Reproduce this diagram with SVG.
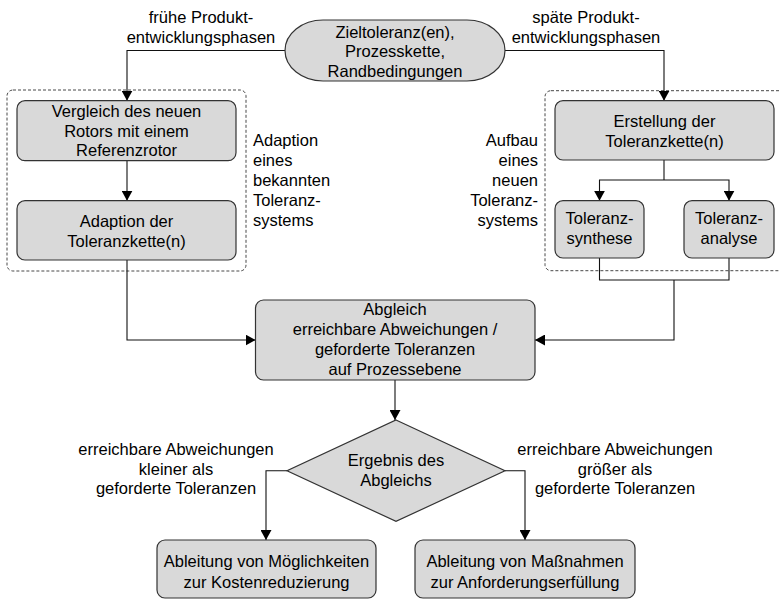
<svg xmlns="http://www.w3.org/2000/svg" width="779" height="599" viewBox="0 0 779 599">
  <style>
    text { font-family: "Liberation Sans", Arial, sans-serif; font-size: 16.5px; fill: #000; }
    .c { text-anchor: middle; }
    .e { text-anchor: end; }
    .box { fill: #d9d9d9; stroke: #333; stroke-width: 1.2; }
    .grp { fill: none; stroke: #333; stroke-width: 0.9; stroke-dasharray: 3 2; }
    .con { fill: none; stroke: #111; stroke-width: 1.1; }
  </style>
  <defs>
    <marker id="arrow" markerUnits="userSpaceOnUse" markerWidth="10" markerHeight="11" refX="10" refY="5.5" orient="auto">
      <path d="M0,0 L10,5.5 L0,11 z" fill="#000"/>
    </marker>
  </defs>

  <!-- dashed groupings -->
  <g id="group-known">
    <rect class="grp" x="7" y="90" width="239" height="181" rx="6"/>
    <text x="253" y="146">Adaption</text>
    <text x="253" y="166">eines</text>
    <text x="253" y="186">bekannten</text>
    <text x="253" y="206">Toleranz-</text>
    <text x="253" y="226">systems</text>
  </g>
  <g id="group-new">
    <rect class="grp" x="545" y="90.7" width="245" height="180" rx="6"/>
    <text class="e" x="538" y="146">Aufbau</text>
    <text class="e" x="538" y="166">eines</text>
    <text class="e" x="538" y="186">neuen</text>
    <text class="e" x="538" y="206">Toleranz-</text>
    <text class="e" x="538" y="226">systems</text>
  </g>

  <!-- connectors -->
  <g id="connectors">
    <path class="con" d="M285,50.5 H127 V100.7" marker-end="url(#arrow)"/>
    <path class="con" d="M127,161 V200.7" marker-end="url(#arrow)"/>
    <path class="con" d="M127,260 V340 H255.5" marker-end="url(#arrow)"/>
    <path class="con" d="M505,50.5 H664 V100.7" marker-end="url(#arrow)"/>
    <path class="con" d="M664,160 V180"/>
    <path class="con" d="M664,180 H599.5 V200.7" marker-end="url(#arrow)"/>
    <path class="con" d="M664,180 H729 V200.7" marker-end="url(#arrow)"/>
    <path class="con" d="M599.5,258 V280 H729 V258"/>
    <path class="con" d="M674,280 V340 H535" marker-end="url(#arrow)"/>
    <path class="con" d="M395,380 V420" marker-end="url(#arrow)"/>
    <path class="con" d="M287,470.7 H266 V540" marker-end="url(#arrow)"/>
    <path class="con" d="M505,470.7 H525 V540" marker-end="url(#arrow)"/>
    <text class="c" x="201" y="22.7">frühe Produkt-</text>
    <text class="c" x="201" y="42.7">entwicklungsphasen</text>
    <text class="c" x="586" y="22.7">späte Produkt-</text>
    <text class="c" x="586" y="42.7">entwicklungsphasen</text>
    <text class="c" x="176" y="455">erreichbare Abweichungen</text>
    <text class="c" x="176" y="474.5">kleiner als</text>
    <text class="c" x="176" y="494">geforderte Toleranzen</text>
    <text class="c" x="615" y="455">erreichbare Abweichungen</text>
    <text class="c" x="615" y="474.5">größer als</text>
    <text class="c" x="615" y="494">geforderte Toleranzen</text>
  </g>

  <!-- nodes -->
  <g id="start">
    <rect class="box" x="285" y="20" width="220" height="61" rx="38" ry="30.5"/>
    <text class="c" x="395" y="37.5">Zieltoleranz(en),</text>
    <text class="c" x="395" y="57">Prozesskette,</text>
    <text class="c" x="395" y="76.5">Randbedingungen</text>
  </g>
  <g id="compare-rotor">
    <rect class="box" x="17" y="100.7" width="219" height="60" rx="8"/>
    <text class="c" x="126.5" y="117">Vergleich des neuen</text>
    <text class="c" x="126.5" y="136.5">Rotors mit einem</text>
    <text class="c" x="126.5" y="156">Referenzrotor</text>
  </g>
  <g id="adapt-chain">
    <rect class="box" x="17" y="200.7" width="219" height="59.3" rx="8"/>
    <text class="c" x="126.5" y="226.7">Adaption der</text>
    <text class="c" x="126.5" y="246.7">Toleranzkette(n)</text>
  </g>
  <g id="create-chain">
    <rect class="box" x="555" y="100.7" width="219" height="59.3" rx="8"/>
    <text class="c" x="664.5" y="126.7">Erstellung der</text>
    <text class="c" x="664.5" y="146.7">Toleranzkette(n)</text>
  </g>
  <g id="synthesis">
    <rect class="box" x="555" y="200.7" width="89" height="57.3" rx="8"/>
    <text class="c" x="599.5" y="224">Toleranz-</text>
    <text class="c" x="599.5" y="244">synthese</text>
  </g>
  <g id="analysis">
    <rect class="box" x="684" y="200.7" width="90" height="57.3" rx="8"/>
    <text class="c" x="729" y="224">Toleranz-</text>
    <text class="c" x="729" y="244">analyse</text>
  </g>
  <g id="reconcile">
    <rect class="box" x="255.5" y="300" width="279.5" height="80" rx="8"/>
    <text class="c" x="395" y="315">Abgleich</text>
    <text class="c" x="395" y="335">erreichbare Abweichungen /</text>
    <text class="c" x="395" y="355">geforderte Toleranzen</text>
    <text class="c" x="395" y="375">auf Prozessebene</text>
  </g>
  <g id="decision">
    <polygon class="box" points="396,420 505,470.7 396,521.4 287,470.7"/>
    <text class="c" x="396" y="466">Ergebnis des</text>
    <text class="c" x="396" y="485.5">Abgleichs</text>
  </g>
  <g id="cost-reduction">
    <rect class="box" x="157" y="540" width="219" height="58" rx="8"/>
    <text class="c" x="266.5" y="566.7">Ableitung von Möglichkeiten</text>
    <text class="c" x="266.5" y="588">zur Kostenreduzierung</text>
  </g>
  <g id="requirement-fulfilment">
    <rect class="box" x="415" y="540" width="220" height="58" rx="8"/>
    <text class="c" x="525" y="566.7">Ableitung von Maßnahmen</text>
    <text class="c" x="525" y="588">zur Anforderungserfüllung</text>
  </g>
</svg>
